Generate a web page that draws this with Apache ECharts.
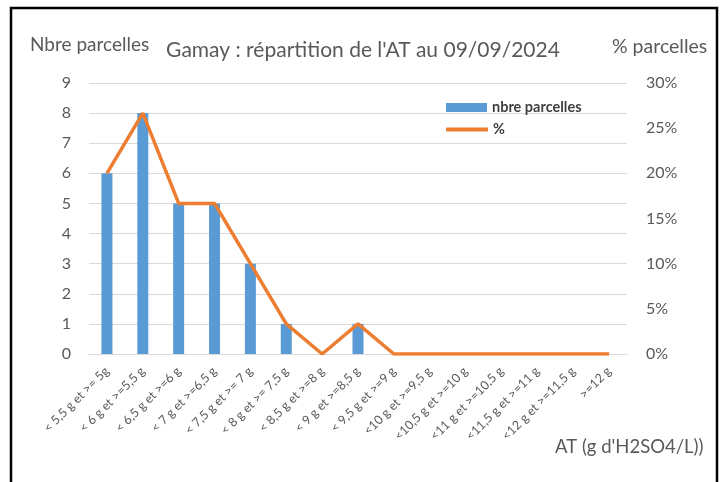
<!DOCTYPE html>
<html>
<head>
<meta charset="utf-8">
<script src="https://cdn.jsdelivr.net/npm/echarts@6/dist/echarts.min.js"></script>
<style>
  html, body { margin: 0; padding: 0; background: #fff; }
  #chart { width: 726px; height: 482px; }
</style>
</head>
<body>
<div id="chart"></div>
<script>
  const categories = [
    '< 5,5 g et >= 5g', '< 6 g et >=5,5 g', '< 6,5 g et >=6 g', '< 7 g et >=6,5 g',
    '< 7,5 g et >= 7 g', '< 8 g et >= 7,5 g', '< 8,5 g et >=8 g', '< 9 g et >=8,5 g',
    '< 9,5 g et >=9 g', '<10 g et >=9,5 g', '<10,5 g et >=10 g', '<11 g et >=10,5 g',
    '<11,5 g et >=11 g', '<12 g et >=11,5 g', '>=12 g'
  ];
  const nbreParcelles = [6, 8, 5, 5, 3, 1, 0, 1, 0, 0, 0, 0, 0, 0, 0];
  const pctParcelles = [20, 26.67, 16.67, 16.67, 10, 3.33, 0, 3.33, 0, 0, 0, 0, 0, 0, 0];

  const textColor = '#595959';
  const font = 'Lato';
  const legendText = { fontFamily: font, fontSize: 14.5, fontWeight: 'bold', color: '#404040' };

  const chart = echarts.init(document.getElementById('chart'));
  const option = {
    backgroundColor: '#fff',
    animation: false,
    textStyle: { fontFamily: font },
    title: {
      text: "Gamay : répartition de l'AT au 09/09/2024",
      left: 'center',
      top: 35,
      textStyle: { fontFamily: font, fontSize: 21, fontWeight: 'normal', color: textColor }
    },
    legend: [
      {
        left: 441, top: 95,
        itemWidth: 41, itemHeight: 9, itemGap: 5,
        textStyle: legendText,
        data: [{ name: 'nbre parcelles', icon: 'rect' }]
      },
      {
        left: 441, top: 117,
        itemWidth: 42, itemHeight: 4,
        textStyle: legendText,
        data: [{ name: '%', icon: 'roundRect', itemStyle: { color: '#ED7D31' } }]
      }
    ],
    grid: { left: 89, right: 99, top: 83, bottom: 128 },
    xAxis: {
      type: 'category',
      data: categories,
      axisLine: { lineStyle: { color: '#D9D9D9', width: 1 } },
      axisTick: { show: false },
      axisLabel: { rotate: 45, fontSize: 12.5, color: textColor, fontFamily: font, interval: 0, margin: 15 }
    },
    yAxis: [
      {
        type: 'value', min: 0, max: 9, interval: 1,
        axisLine: { show: false }, axisTick: { show: false },
        splitLine: { lineStyle: { color: '#D9D9D9', width: 1 } },
        axisLabel: { fontSize: 16, color: textColor, fontFamily: font, margin: 18 }
      },
      {
        type: 'value', min: 0, max: 30, interval: 5,
        axisLine: { show: false }, axisTick: { show: false },
        splitLine: { show: false },
        axisLabel: { fontSize: 16, color: textColor, fontFamily: font, margin: 19, formatter: '{value}%' }
      }
    ],
    series: [
      {
        name: 'nbre parcelles',
        type: 'bar',
        data: nbreParcelles,
        barWidth: 11,
        itemStyle: { color: '#5B9BD5' }
      },
      {
        name: '%',
        type: 'line',
        yAxisIndex: 1,
        data: pctParcelles,
        symbol: 'none',
        lineStyle: { color: '#ED7D31', width: 3.5 },
        itemStyle: { color: '#ED7D31' }
      }
    ],
    graphic: [
      {
        type: 'rect',
        shape: { x: 11, y: 8, width: 706, height: 490 },
        style: { fill: 'none', stroke: '#000', lineWidth: 2.5 }
      },
      {
        type: 'text', left: 30, top: 35,
        style: { text: 'Nbre parcelles', fontFamily: font, fontSize: 19, fill: textColor }
      },
      {
        type: 'text', left: 612, top: 37,
        style: { text: '% parcelles', fontFamily: font, fontSize: 19.5, fill: textColor }
      },
      {
        type: 'text', left: 555, top: 438,
        style: { text: "AT (g d'H2SO4/L))", fontFamily: font, fontSize: 18.5, fill: textColor }
      }
    ]
  };
  chart.setOption(option);
</script>
</body>
</html>
